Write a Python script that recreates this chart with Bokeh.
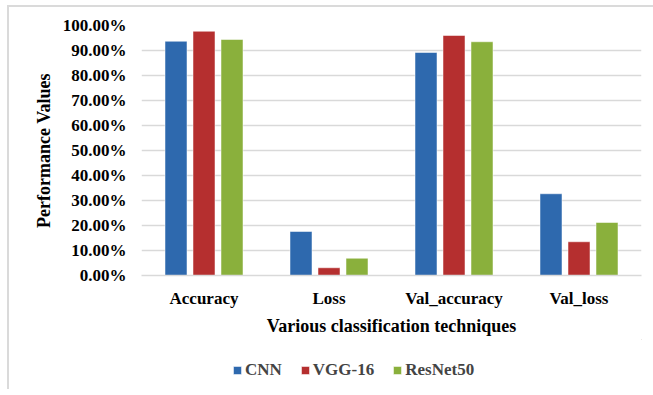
from bokeh.plotting import figure
from bokeh.layouts import column
from bokeh.models import ColumnDataSource, FactorRange, NumeralTickFormatter, Legend, LegendItem, Range1d, FixedTicker
from bokeh.transform import dodge
from bokeh.embed import file_html
from bokeh.resources import INLINE

categories = ["Accuracy", "Loss", "Val_accuracy", "Val_loss"]
cnn = [0.937, 0.176, 0.892, 0.327]
vgg16 = [0.977, 0.031, 0.960, 0.135]
resnet50 = [0.944, 0.069, 0.935, 0.212]
series_names = ["CNN", "VGG-16", "ResNet50"]
colors = ["#2E69AE", "#B52F2F", "#8AB03C"]
y_ticks = [0.0, 0.1, 0.2, 0.3, 0.4, 0.5, 0.6, 0.7, 0.8, 0.9, 1.0]

source = ColumnDataSource(data=dict(categories=categories, cnn=cnn, vgg16=vgg16, resnet50=resnet50))

FONT = "Liberation Serif"
BX, BY = 9, 7  # offset of the chart box (margin + border)

p = figure(x_range=FactorRange(*categories, range_padding=0), y_range=Range1d(0, 1),
           frame_width=500, frame_height=250,
           min_border_left=141 - BX, min_border_right=12, min_border_top=25 - BY, min_border_bottom=64,
           output_backend="svg", toolbar_location=None)

cols = ["cnn", "vgg16", "resnet50"]
offsets = [-0.224, 0.0, 0.224]
renderers = []
for col, off, color in zip(cols, offsets, colors):
    r = p.vbar(x=dodge("categories", off, range=p.x_range), top=col, width=0.176,
               source=source, fill_color=color, line_color="white", line_width=0.5)
    renderers.append(r)

p.outline_line_color = None
p.xgrid.grid_line_color = None
p.ygrid.grid_line_color = "#d9d9d9"
p.ygrid.grid_line_width = 1.3
p.yaxis.ticker = FixedTicker(ticks=y_ticks)
p.yaxis.formatter = NumeralTickFormatter(format="0.00%")

for ax in (p.xaxis[0], p.yaxis[0]):
    ax.major_tick_line_color = None
    ax.minor_tick_line_color = None
    ax.major_label_text_font = FONT
    ax.major_label_text_font_style = "bold"
    ax.major_label_text_font_size = "17px"
    ax.major_label_text_color = "black"
    ax.axis_label_text_font = FONT
    ax.axis_label_text_font_style = "bold"
    ax.axis_label_text_font_size = "18px"
    ax.axis_label_text_color = "black"

p.yaxis.axis_line_color = None
p.yaxis.major_label_standoff = 9
p.yaxis.axis_label = "Performance Values"
p.yaxis.axis_label_standoff = 6

p.xaxis.axis_line_color = "#d9d9d9"
p.xaxis.axis_line_width = 1.3
p.xaxis.major_label_standoff = 7
p.xaxis.axis_label = "Various classification techniques"
p.xaxis.axis_label_standoff = 5

# legend strip below the chart (swatches use off-screen placeholder bars)
lf = figure(width=653 - BX, height=50, x_range=Range1d(0, 1), y_range=Range1d(0, 1),
            x_axis_type=None, y_axis_type=None, min_border=0,
            min_border_left=0, min_border_right=0, min_border_top=0, min_border_bottom=0,
            output_backend="svg", toolbar_location=None)
lf.outline_line_color = None
lf.xgrid.grid_line_color = None
lf.ygrid.grid_line_color = None
leg_renderers = []
for color in colors:
    leg_renderers.append(lf.vbar(x=[5], top=[5], bottom=[4], width=0.1,
                                 fill_color=color, line_color="white", line_width=0.5))

# frames of the column's children are aligned, so x is relative to the chart frame's left edge
legend = Legend(items=[LegendItem(label=n, renderers=[r]) for n, r in zip(series_names, leg_renderers)],
                orientation="horizontal", location=(232 - 141, 9),
                glyph_width=10, glyph_height=10, label_standoff=3, spacing=18, label_height=20,
                label_text_font=FONT, label_text_font_style="bold", label_text_font_size="17px",
                border_line_color=None, background_fill_alpha=0, padding=0, margin=0)
lf.add_layout(legend, "center")

layout = column(p, lf, spacing=0, margin=(5, 0, 0, 7),
                styles={"border-top": "2px solid #dadada", "border-left": "2px solid #dadada"})

open("out.html", "w").write(file_html(layout, INLINE))
